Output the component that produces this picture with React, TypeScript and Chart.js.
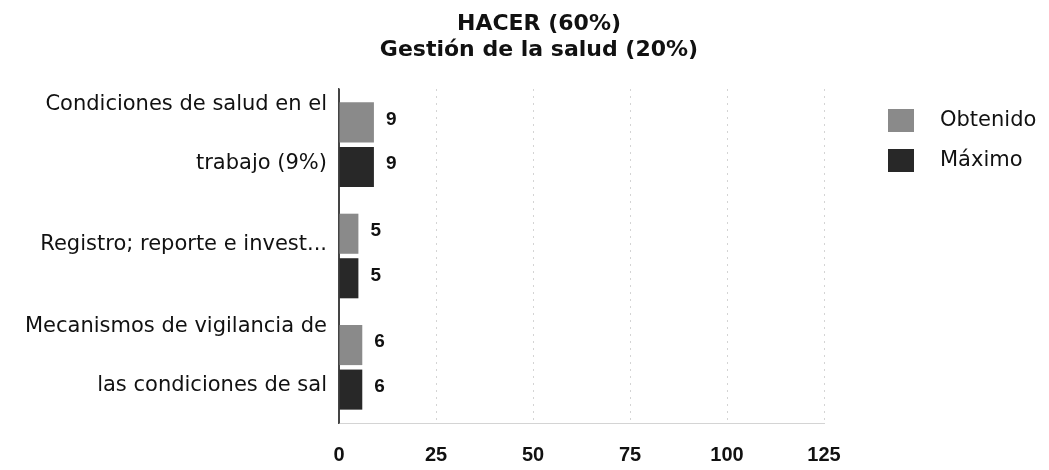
import React, { useEffect, useRef } from "react";
import { Chart, registerables } from "chart.js";

Chart.register(...registerables);

const categories: (string | string[])[] = [
  ["Condiciones de salud en el", "trabajo (9%)"],
  "Registro; reporte e invest...",
  ["Mecanismos de vigilancia de", "las condiciones de sal"],
];
const obtenido = [9, 5, 6];
const maximo = [9, 5, 6];
const seriesNames = ["Obtenido", "Máximo"];
const seriesColors = ["#8a8a8a", "#282828"];
const xMin = 0;
const xMax = 125;
const xStep = 25;
const titleLines = ["HACER (60%)", "Gestión de la salud (20%)"];

const overlayPlugin = {
  id: "overlay",
  afterDraw(chart: any) {
    const ctx = chart.ctx;
    ctx.save();
    // title
    ctx.fillStyle = "#111";
    ctx.textAlign = "center";
    ctx.textBaseline = "middle";
    ctx.font = "bold 22px 'DejaVu Sans'";
    ctx.fillText(titleLines[0], 531, 16);
    ctx.fillText(titleLines[1], 531, 42);
    // legend
    chart.data.datasets.forEach((ds: any, i: number) => {
      const y = 101 + i * 40;
      ctx.fillStyle = ds.backgroundColor;
      ctx.fillRect(880, y, 26, 23);
      ctx.fillStyle = "#111";
      ctx.textAlign = "left";
      ctx.font = "21px 'DejaVu Sans'";
      ctx.fillText(ds.label, 932, y + 12);
    });
    // data labels
    ctx.font = "bold 19px 'Liberation Sans'";
    ctx.textAlign = "left";
    ctx.textBaseline = "middle";
    ctx.fillStyle = "#111";
    chart.data.datasets.forEach((ds: any, i: number) => {
      const meta = chart.getDatasetMeta(i);
      meta.data.forEach((bar: any, j: number) => {
        ctx.fillText(String(ds.data[j]), bar.x + 12, bar.y - 3);
      });
    });
    ctx.restore();
  },
};

export default function App() {
  const ref = useRef<HTMLCanvasElement | null>(null);
  useEffect(() => {
    document.body.style.overflow = "hidden";
    document.documentElement.style.overflow = "hidden";
    const chart = new Chart(ref.current as HTMLCanvasElement, {
      type: "bar",
      data: {
        labels: categories,
        datasets: [
          { label: seriesNames[0], data: obtenido, backgroundColor: seriesColors[0] },
          { label: seriesNames[1], data: maximo, backgroundColor: seriesColors[1] },
        ],
      },
      options: {
        indexAxis: "y",
        animation: false,
        responsive: true,
        maintainAspectRatio: false,
        layout: { padding: { top: 81, right: 217, bottom: 0, left: 0 } },
        plugins: {
          legend: { display: false },
          title: { display: false },
          tooltip: { enabled: false },
        },
        scales: {
          x: {
            min: xMin,
            max: xMax,
            ticks: {
              stepSize: xStep,
              color: "#111",
              font: { family: "'Liberation Sans'", size: 20, weight: "bold" },
              padding: 20,
            },
            grid: {
              drawTicks: false,
              color: (c: any) => (c.tick && c.tick.value === 0 ? "#444" : "#d4d4d4"),
            },
            border: {
              color: "#d4d4d4",
              dash: (c: any) => (c.tick && c.tick.value === 0 ? [] : [2, 5]),
            },
            afterFit: (s: any) => {
              s.height = 47;
              s.paddingLeft = 0;
              s.paddingRight = 0;
            },
          },
          y: {
            grid: { display: false },
            border: { color: "#444", width: 1.5 },
            ticks: {
              autoSkip: false,
              color: "#111",
              font: { family: "'DejaVu Sans'", size: 21, lineHeight: 2.8 },
              padding: 4,
              labelOffset: (c: any) => (c && c.index === 1 ? 6 : -11),
            },
            afterFit: (s: any) => {
              s.width = 331;
              s.paddingTop = 0;
              s.paddingBottom = 0;
            },
          },
        },
      },
      plugins: [overlayPlugin],
    });
    return () => chart.destroy();
  }, []);
  return (
    <div style={{ position: "relative", height: "462px" }}>
      <canvas ref={ref} />
    </div>
  );
}
